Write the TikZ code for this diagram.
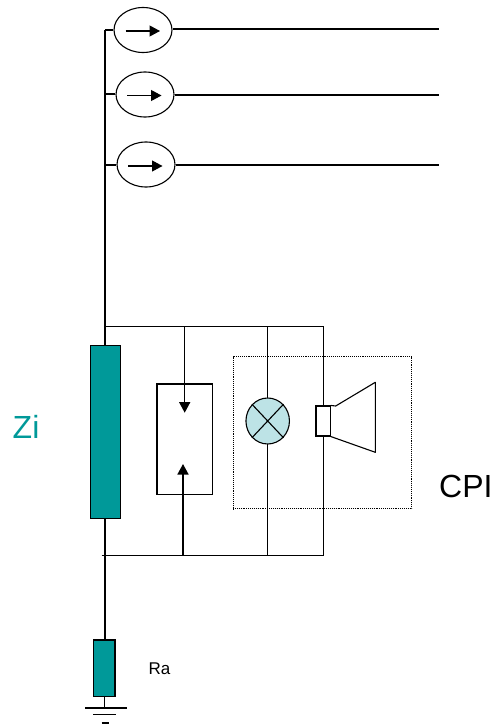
\documentclass[tikz,border=0pt]{standalone}
\usepackage{fontspec}
\setmainfont{Liberation Sans}
\usetikzlibrary{shapes.geometric,shapes.misc,arrows.meta,calc}
\definecolor{teal1}{RGB}{0,153,153}
\definecolor{lampblue}{RGB}{189,227,230}
\tikzset{
  wire/.style={draw=black,line width=1.1pt},
  flow/.style={wire,-{Triangle[length=10.5pt,width=11pt]}},
  meter/.style={ellipse,draw=black,line width=1.1pt,fill=white,minimum width=58pt,minimum height=45pt,inner sep=0pt},
  resistor/.style={rectangle,draw=black,line width=1.3pt,fill=teal1,inner sep=0pt},
  plainbox/.style={rectangle,draw=black,line width=1.1pt,fill=white,inner sep=0pt},
  lamp/.style={cross out,draw=black,line width=1.1pt,minimum width=30.5pt,minimum height=32.5pt,inner sep=0pt},
  lampdisc/.style={ellipse,draw=black,line width=1.1pt,fill=lampblue,minimum width=43.5pt,minimum height=46pt,inner sep=0pt},
  dotbox/.style={rectangle,draw=black,line width=0.9pt,densely dotted,inner sep=0pt}
}
\begin{document}
\begin{tikzpicture}[x=1pt,y=-1pt]
\useasboundingbox (0,0) rectangle (495,725);
% free ends and junctions
\coordinate (busTop) at (105,30);
\coordinate (tap2) at (105,94);
\coordinate (tap3) at (105,165);
\coordinate (out1) at (439,29);
\coordinate (out2) at (439,95);
\coordinate (out3) at (439,165);
\coordinate (topL) at (105,326.7);
\coordinate (topA) at (184.7,326.7);
\coordinate (topB) at (267.7,326.7);
\coordinate (topC) at (323.7,326.7);
\coordinate (botL) at (101.7,555.3);
\coordinate (botA) at (183,555.3);
\coordinate (botB) at (267.7,555.3);
\coordinate (botC) at (323.7,555.3);
\coordinate (tipDown) at (184.7,412.7);
\coordinate (tipUp) at (183,464);
% dotted enclosure and wires below the symbols
\node[dotbox,minimum width=178.7pt,minimum height=152pt] (cpi) at (322.35,432.7) {};
\draw[wire] (topB) -- (botB);
\draw[wire] (topC) -- (botC);
% meters
\node[meter] (m1) at (143,30) {};
\node[meter] (m2) at (145,94.5) {};
\node[meter] (m3) at (146,164.5) {};
\coordinate (a1s) at (125.5,31); \coordinate (a1e) at (160,31);
\coordinate (a2s) at (127,95.5); \coordinate (a2e) at (161.5,95.5);
\coordinate (a3s) at (128,166); \coordinate (a3e) at (162.5,166);
\draw[flow] (a1s) -- (a1e);
\draw[flow] (a2s) -- (a2e);
\draw[flow] (a3s) -- (a3e);
\draw[wire] (busTop) -- (m1.west);
\draw[wire] (tap2) -- (tap2 -| m2.west);
\draw[wire] (tap3) -- (tap3 -| m3.west);
\draw[wire] (out1 -| m1.east) -- (out1);
\draw[wire] (out2 -| m2.east) -- (out2);
\draw[wire] (out3 -| m3.east) -- (out3);
% resistors
\node[resistor,minimum width=29.6pt,minimum height=173pt] (zi) at (105.5,432.2) {};
\node[resistor,minimum width=21.3pt,minimum height=56.7pt] (ra) at (104.4,668.3) {};
\draw[wire] (busTop) -- (zi.north -| busTop);
\draw[wire] (zi.south -| busTop) -- (ra.north -| busTop);
% top and bottom rails
\draw[wire] (topL) -- (topC);
\draw[wire] (botL) -- (botC);
% relay box
\node[plainbox,minimum width=55.3pt,minimum height=110.7pt] (relay) at (184.65,439.35) {};
\draw[flow] (topA) -- (tipDown);
\draw[flow,line width=1.5pt] (botA) -- (tipUp);
% lamp
\node[lampdisc] (lampd) at (267.7,421) {};
\node[lamp] (lampx) at (267.7,421) {};
% speaker
\node[plainbox,minimum width=14.3pt,minimum height=30pt] (spk) at (323.15,421) {};
\coordinate (cone0) at (335.7,406);
\coordinate (cone1) at (375.3,382.3);
\coordinate (cone2) at (375.3,452.3);
\draw[wire,line join=round] (spk.north east) -- (cone0) -- (cone1) -- (cone2) -- (spk.south east);
% ground
\coordinate (g1) at (104.7,708);
\coordinate (g1l) at (85,708); \coordinate (g1r) at (127,708);
\coordinate (g2l) at (93.3,714.7); \coordinate (g2r) at (116,714.7);
\coordinate (g3l) at (101.5,723); \coordinate (g3r) at (108.5,723);
\draw[wire] (ra.south -| g1) -- (g1);
\draw[wire] (g1l) -- (g1r);
\draw[wire] (g2l) -- (g2r);
\draw[wire] (g3l) -- (g3r);
% labels
\node[text=teal1,font=\fontsize{32pt}{32pt}\selectfont,anchor=base west,inner sep=0pt] (zilabel) at (12.5,438.5) {Zi};
\node[font=\fontsize{32pt}{32pt}\selectfont,anchor=base west,inner sep=0pt] (cpilabel) at (439,497) {CPI};
\node[font=\fontsize{17pt}{17pt}\selectfont,anchor=base west,inner sep=0pt] (ralabel) at (148.5,674) {Ra};
\end{tikzpicture}
\end{document}
